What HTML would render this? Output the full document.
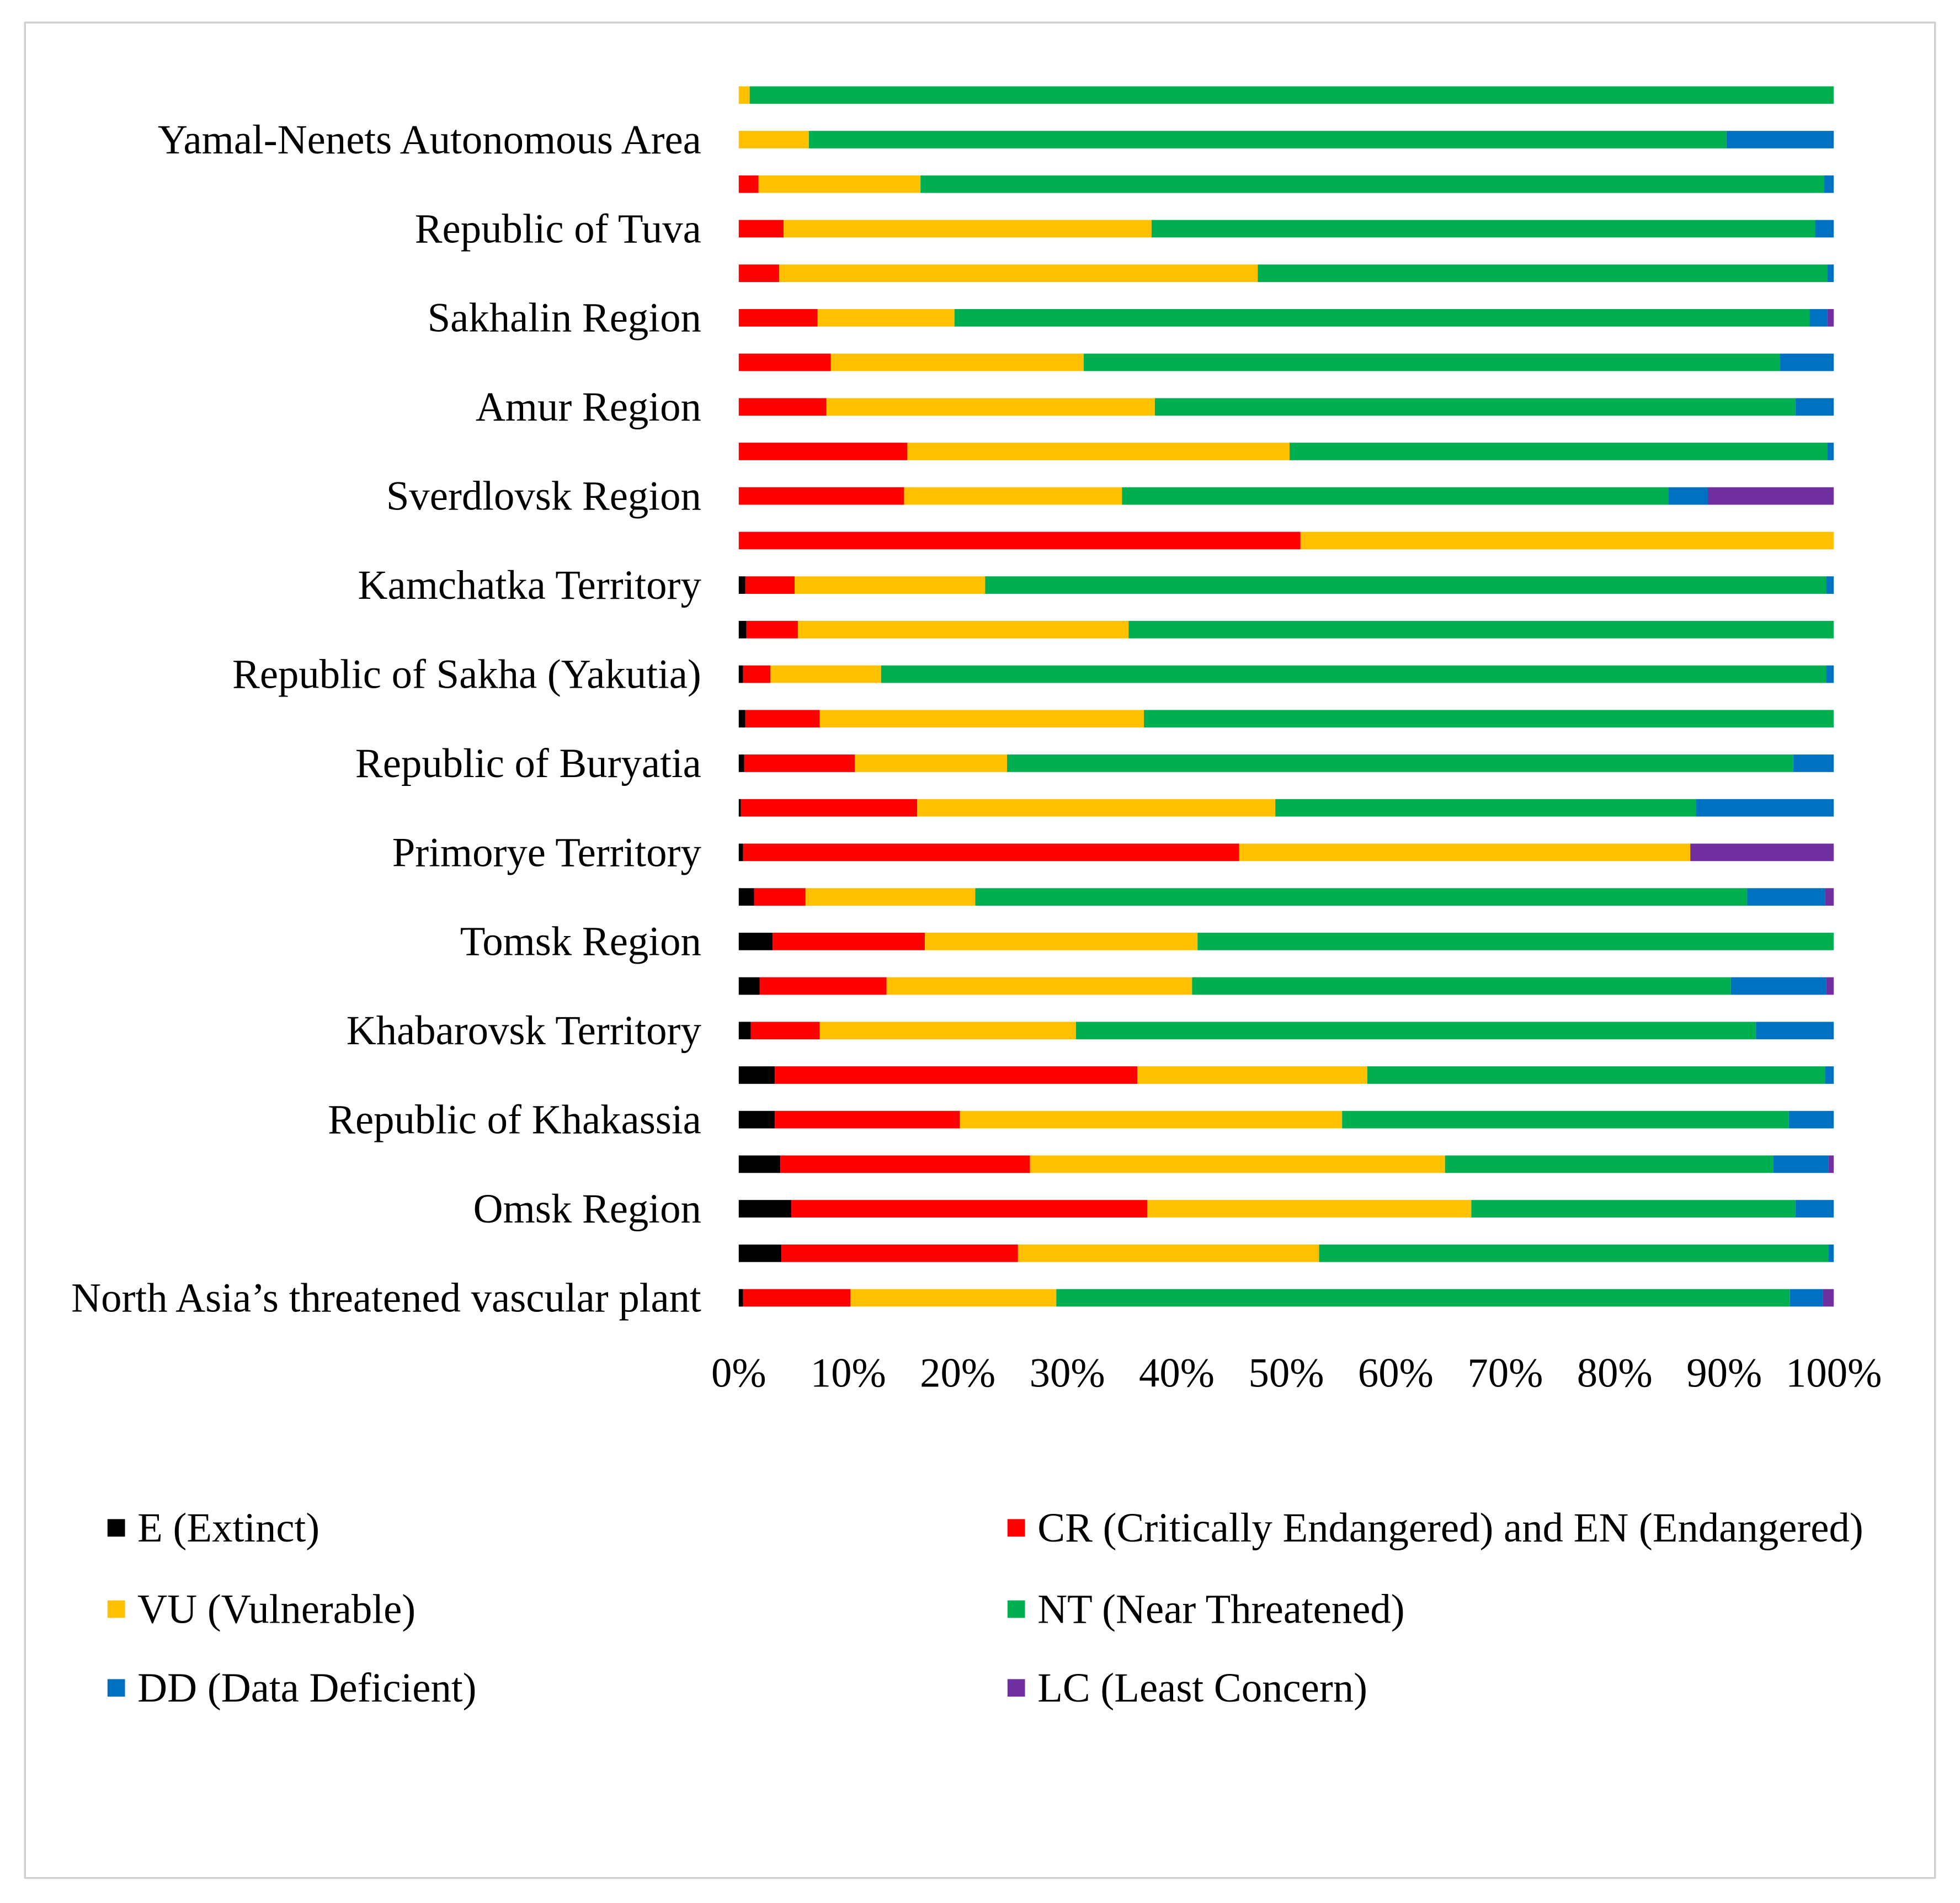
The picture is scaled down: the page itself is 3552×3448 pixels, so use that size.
<!DOCTYPE html>
<html><head><meta charset="utf-8"><style>
html,body{margin:0;padding:0;background:#fff}
svg{display:block}
text{font-family:"Liberation Serif",serif;fill:#000}
</style></head><body>
<svg id="chart" width="3552" height="3448" viewBox="0 0 1568 1522" xmlns="http://www.w3.org/2000/svg">
<rect x="20" y="18" width="1528" height="1484" fill="#fff" stroke="#d0d0d0" stroke-width="1.5"/>
<g id="bars"></g><g id="ylabels"></g><g id="xticks"></g><g id="legend"></g>
</svg>
<script>
const categories=["","Yamal-Nenets Autonomous Area","","Republic of Tuva","","Sakhalin Region","","Amur Region","","Sverdlovsk Region","","Kamchatka Territory","","Republic of Sakha (Yakutia)","","Republic of Buryatia","","Primorye Territory","","Tomsk Region","","Khabarovsk Territory","","Republic of Khakassia","","Omsk Region","","North Asia’s threatened vascular plant"];
const seriesNames=["E (Extinct)","CR (Critically Endangered) and EN (Endangered)","VU (Vulnerable)","NT (Near Threatened)","DD (Data Deficient)","LC (Least Concern)"];
const seriesColors=["#000000","#ff0000","#ffc000","#00b050","#0070c0","#7030a0"];
const E=[0,0,0,0,0,0,0,0,0,0,0,0.6,0.7,0.4,0.6,0.5,0.2,0.4,1.4,3.1,1.9,1.1,3.3,3.3,3.8,4.8,3.9,0.4];
const CR=[0,0,1.8,4.1,3.7,7.2,8.4,8.0,15.4,15.1,51.3,4.5,4.7,2.5,6.8,10.1,16.1,45.3,4.7,13.9,11.6,6.3,33.1,16.9,22.8,32.5,21.6,9.8];
const VU=[1.0,6.4,14.8,33.6,43.7,12.5,23.1,30.0,34.9,19.9,48.7,17.4,30.2,10.1,29.6,13.9,32.7,41.2,15.5,24.9,27.9,23.4,21.0,34.9,37.9,29.6,27.5,18.8];
const NT=[99.0,83.8,82.5,60.6,52.0,78.1,63.6,58.5,49.1,49.9,0,76.8,64.4,86.3,63.0,71.8,38.4,0,70.5,58.1,49.2,62.1,41.8,40.8,30.0,29.6,46.5,67.0];
const DD=[0,9.8,0.9,1.7,0.6,1.6,4.9,3.5,0.6,3.6,0,0.7,0,0.7,0,3.7,12.6,0,7.1,0,8.7,7.1,0.8,4.1,5.0,3.5,0.5,3.0];
const LC=[0,0,0,0,0,0.6,0,0,0,11.5,0,0,0,0,0,0,0,13.1,0.8,0,0.7,0,0,0,0.5,0,0,1.0];
const xTicks=[0,10,20,30,40,50,60,70,80,90,100];
const NS="http://www.w3.org/2000/svg";
const x0=591,x1=1467,yTop=76,yStep=35.63,barH=14;
const xs=v=>x0+(x1-x0)*v/100;
const ys=i=>yTop+i*yStep;
function mk(tag,attrs,parent){const e=document.createElementNS(NS,tag);for(const k in attrs)e.setAttribute(k,attrs[k]);parent.appendChild(e);return e;}
const series=[E,CR,VU,NT,DD,LC];
const gb=document.getElementById('bars');
categories.forEach((c,i)=>{
  let acc=0;
  series.forEach((s,k)=>{
    const v=s[i];
    if(v>0){
      const r=mk('rect',{x:xs(acc),y:ys(i)-barH/2,width:xs(acc+v)-xs(acc),height:barH,fill:seriesColors[k]},gb);
      
      
    }
    acc+=v;
  });
  if(c){
    const t=mk('text',{x:561,y:ys(i)+11,'text-anchor':'end','font-size':33},document.getElementById('ylabels'));
    t.textContent=c;
    
    
  }
});
xTicks.forEach(v=>{
  const t=mk('text',{x:xs(v),y:1109,'text-anchor':'middle','font-size':33},document.getElementById('xticks'));
  t.textContent=v+'%';
  
  
});
const gl=document.getElementById('legend');
seriesNames.forEach((n,k)=>{
  const col=k%2,row=Math.floor(k/2);
  const mx=col?806:86,my=[1222,1287,1350][row];
  const r=mk('rect',{x:mx,y:my-7,width:14,height:14,fill:seriesColors[k]},gl);
  
  
  const t=mk('text',{x:mx+24,y:my+11,'font-size':33},gl);
  t.textContent=n;
  
  
});
</script>
</body></html>
